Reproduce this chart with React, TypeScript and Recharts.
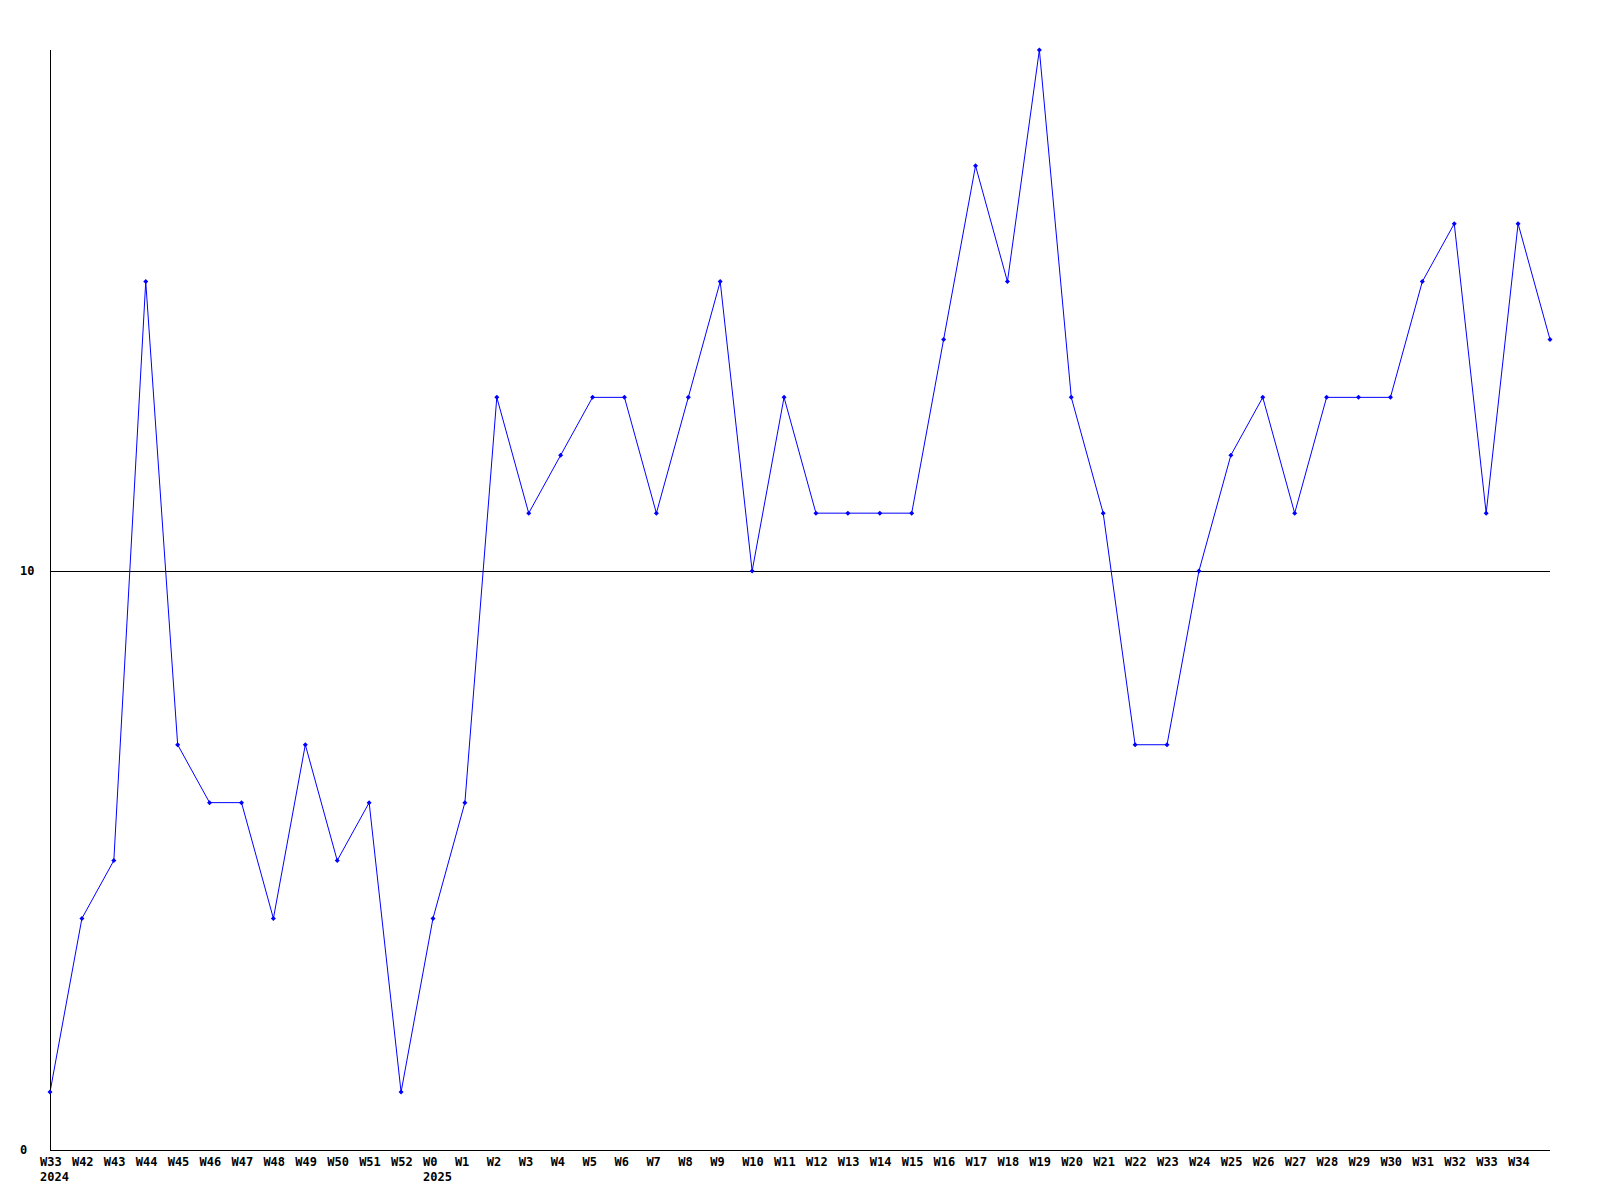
import React from 'react';
import { LineChart, Line, XAxis, YAxis, ReferenceLine } from 'recharts';

// Week labels along the x axis (the last point has no label)
const weeks = [
  'W33', 'W42', 'W43', 'W44', 'W45', 'W46', 'W47', 'W48', 'W49', 'W50', 'W51', 'W52',
  'W0', 'W1', 'W2', 'W3', 'W4', 'W5', 'W6', 'W7', 'W8', 'W9', 'W10', 'W11', 'W12',
  'W13', 'W14', 'W15', 'W16', 'W17', 'W18', 'W19', 'W20', 'W21', 'W22', 'W23', 'W24',
  'W25', 'W26', 'W27', 'W28', 'W29', 'W30', 'W31', 'W32', 'W33', 'W34', '',
];

// Year shown under the first week of each year
const years = ['2024', '', '', '', '', '', '', '', '', '', '', '', '2025'];

const counts = [
  1, 4, 5, 15, 7, 6, 6, 4, 7, 5, 6, 1,
  4, 6, 13, 11, 12, 13, 13, 11, 13, 15, 10, 13, 11,
  11, 11, 11, 14, 17, 15, 19, 13, 11, 7, 7, 10,
  12, 13, 11, 13, 13, 13, 15, 16, 11, 16, 14,
];

const yTicks = [0, 10];

const data = counts.map((value, i) => ({
  idx: i,
  week: weeks[i],
  year: years[i] || '',
  value,
}));

const FONT = '"DejaVu Sans Mono", "Liberation Mono", monospace';

const WeekTick = (props: any) => {
  const { x, payload } = props;
  const row = data[payload.value];
  if (!row) return null;
  return (
    <g>
      <text x={x - 10} y={1166} fontFamily={FONT} fontSize={12} fontWeight="bold" fill="#000" textAnchor="start">
        {row.week}
      </text>
      {row.year && (
        <text x={x - 10} y={1181} fontFamily={FONT} fontSize={12} fontWeight="bold" fill="#000" textAnchor="start">
          {row.year}
        </text>
      )}
    </g>
  );
};

const ValueTick = (props: any) => {
  const { y, payload } = props;
  return (
    <text x={20} y={y + 4} fontFamily={FONT} fontSize={12} fontWeight="bold" fill="#000" textAnchor="start">
      {payload.value}
    </text>
  );
};

const Diamond = (props: any) => {
  const { cx, cy } = props;
  if (cx == null || cy == null) return null;
  const r = 2.5;
  return (
    <polygon
      points={`${cx},${cy - r} ${cx + r},${cy} ${cx},${cy + r} ${cx - r},${cy}`}
      fill="#0000ff"
      stroke="none"
    />
  );
};

export default function App() {
  return (
    <div style={{ position: 'absolute', left: 0, top: 0, background: '#fff' }}>
      <LineChart width={1600} height={1200} data={data} margin={{ top: 50, right: 50, bottom: 49, left: 49 }}>
        <XAxis
          dataKey="idx"
          type="number"
          domain={[0, counts.length - 1]}
          ticks={data.map((d) => d.idx)}
          interval={0}
          tick={<WeekTick />}
          tickLine={false}
          axisLine={{ stroke: '#000', strokeWidth: 1, shapeRendering: 'crispEdges' }}
          height={1}
          allowDecimals={false}
        />
        <YAxis
          domain={[0, 19]}
          ticks={yTicks}
          tick={<ValueTick />}
          tickLine={false}
          axisLine={{ stroke: '#000', strokeWidth: 1, shapeRendering: 'crispEdges' }}
          width={1}
          interval={0}
        />
        <ReferenceLine y={10} stroke="#000" strokeWidth={1} shapeRendering="crispEdges" />
        <Line
          type="linear"
          dataKey="value"
          stroke="#0000ff"
          strokeWidth={1}
          dot={<Diamond />}
          activeDot={false}
          isAnimationActive={false}
        />
      </LineChart>
    </div>
  );
}
